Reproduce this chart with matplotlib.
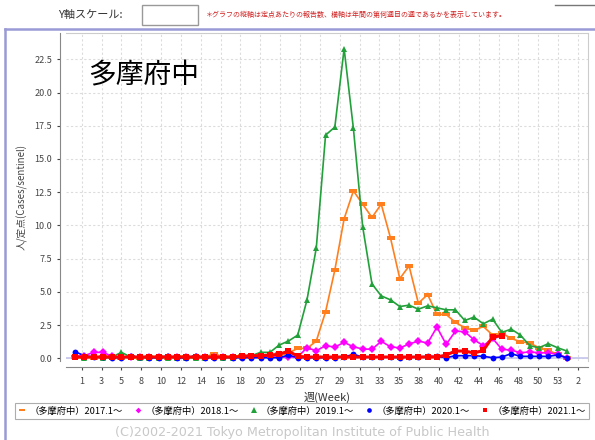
import matplotlib
matplotlib.use("Agg")
import matplotlib.pyplot as plt
from matplotlib.lines import Line2D
from matplotlib.patches import Rectangle

plt.rcParams['font.family'] = ['Noto Sans CJK JP', 'DejaVu Sans']

# 週の並び (1..53 と翌年の1週)
weeks = list(range(1, 55))
tick_labels = ['1', '3', '5', '8', '10', '12', '14', '16', '18', '20', '23', '25', '27',
               '29', '31', '33', '35', '38', '40', '42', '44', '46', '48', '50', '53', '2']

y2017 = [0.1, 0.1, 0.05, 0.1, 0.1, 0.05, 0.1, 0.05, 0.1, 0.1, 0.05, 0.1, 0.1, 0.1, 0.1,
         0.35, 0.1, 0.1, 0.15, 0.15, 0.2, 0.2, 0.3, 0.4, 0.75, 0.75, 1.3, 3.5, 6.65, 10.5,
         12.6, 11.6, 10.6, 11.6, 9.05, 6.0, 6.95, 4.15, 4.8, 3.3, 3.3, 2.7, 2.3, 2.1, 2.4,
         1.75, 1.9, 1.5, 1.25, 1.15, 0.8, 0.6, 0.3, 0.05]
y2018 = [0.15, 0.2, 0.45, 0.45, 0.15, 0.1, 0.1, 0.1, 0.1, 0.1, 0.1, 0.1, 0.1, 0.1, 0.1,
         0.1, 0.1, 0.1, 0.1, 0.1, 0.1, 0.1, 0.1, 0.1, 0.1, 0.8, 0.57, 0.95, 0.85, 1.2,
         0.87, 0.7, 0.68, 1.28, 0.87, 0.78, 1.08, 1.3, 1.15, 2.35, 1.05, 2.05, 2.0, 1.4, 0.95,
         1.5, 0.68, 0.62, 0.42, 0.48, 0.42, 0.42, 0.3, 0.05]
y2019 = [0.1, 0.05, 0.1, 0.05, 0.1, 0.45, 0.1, 0.05, 0.05, 0.05, 0.05, 0.05, 0.05, 0.05, 0.05,
         0.1, 0.05, 0.05, 0.1, 0.2, 0.45, 0.45, 1.0, 1.3, 1.75, 4.4, 8.3, 16.8, 17.4, 23.3,
         17.3, 9.9, 5.6, 4.7, 4.4, 3.9, 4.0, 3.7, 3.95, 3.8, 3.65, 3.65, 2.85, 3.1, 2.6,
         2.95, 1.95, 2.2, 1.75, 0.95, 0.8, 1.1, 0.8, 0.55]
y2020 = [0.5, 0.2, 0.1, 0.1, 0.05, 0.05, 0.15, 0.1, 0.05, 0.05, 0.2, 0.05, 0.05, 0.2, 0.05,
         0.05, 0.1, 0.05, 0.05, 0.05, 0.05, 0.05, 0.05, 0.25, 0.05, 0.05, 0.05, 0.05, 0.05, 0.1,
         0.3, 0.1, 0.1, 0.1, 0.1, 0.05, 0.1, 0.1, 0.15, 0.15, 0.05, 0.2, 0.2, 0.2, 0.15,
         0.05, 0.1, 0.35, 0.15, 0.15, 0.15, 0.15, 0.25, 0.05]
y2021 = [0.1, 0.1, 0.1, 0.1, 0.1, 0.1, 0.1, 0.1, 0.1, 0.1, 0.1, 0.1, 0.1, 0.1, 0.1,
         0.1, 0.1, 0.1, 0.15, 0.2, 0.2, 0.25, 0.3, 0.55, 0.15, 0.1, 0.1, 0.1, 0.1, 0.1,
         0.1, 0.1, 0.1, 0.1, 0.1, 0.1, 0.1, 0.1, 0.1, 0.1, 0.25, 0.55, 0.55, 0.4, 0.6,
         1.6, 1.7]

names = ['（多摩府中）2017.1～', '（多摩府中）2018.1～', '（多摩府中）2019.1～',
         '（多摩府中）2020.1～', '（多摩府中）2021.1～']
colors = ['#ff7f1e', '#ff00ff', '#22a03a', '#0000ff', '#ff0000']
bar_marker = [(-1.0, -0.45), (1.0, -0.45), (1.0, 0.45), (-1.0, 0.45), (-1.0, -0.45)]
markers = [bar_marker, 'D', '^', 'o', 's']
msizes = [5.5, 3.6, 4.6, 4.2, 4.0]
lwidths = [1.2, 1.2, 1.2, 1.2, 2.2]
series = [y2017, y2018, y2019, y2020, y2021]

fig = plt.figure(figsize=(5.95, 4.4), dpi=100)
W, H = 595, 440

# 上部の入力欄と注意書き
fig.text(58 / W, 1 - 15 / H, 'Y軸スケール:', fontsize=8, va='center', color='#333333')
fig.patches.append(Rectangle((142 / W, 1 - 25 / H), 56 / W, 20 / H, transform=fig.transFigure,
                             facecolor='white', edgecolor='#999999', lw=1))
fig.text(206 / W, 1 - 15 / H,
         '＊グラフの縦軸は定点あたりの報告数、横軸は年間の第何週目の週であるかを表示しています。',
         fontsize=5, va='center', color='#d02020')
fig.add_artist(Line2D([555 / W, 1], [1 - 5 / H, 1 - 5 / H], color='#777777', lw=1))
fig.add_artist(Line2D([5 / W, 1], [1 - 29 / H, 1 - 29 / H], color='#9a9ad6', lw=1.8))
fig.add_artist(Line2D([5 / W, 5 / W], [0, 1 - 29 / H], color='#9a9ad6', lw=1.8))

ax = fig.add_axes([66 / W, 1 - 361 / H, (588 - 66) / W, (361 - 33) / H])

ax.axhline(0, color='#c4c4ec', lw=1.2, zorder=1)
for y, c, m, ms, lw in zip(series, colors, markers, msizes, lwidths):
    ax.plot(weeks[:len(y)], y, color=c, marker=m, markersize=ms, lw=lw,
            markeredgewidth=0, zorder=3)

tick_pos = [1.72 + 2.139 * i for i in range(len(tick_labels))]
ax.set_xticks(tick_pos)
ax.set_xticklabels(tick_labels)
ax.set_xlim(0.03, 56.28)
ax.set_ylim(-0.2, 24.48)
ax.set_yticks([0, 2.5, 5, 7.5, 10, 12.5, 15, 17.5, 20, 22.5])
ax.set_yticklabels(['0.0', '2.5', '5.0', '7.5', '10.0', '12.5', '15.0', '17.5', '20.0', '22.5'])

ax.grid(True, color='#dcdcdc', linestyle=(0, (2, 2)), lw=0.8)
ax.set_axisbelow(True)
for s in ['top', 'right']:
    ax.spines[s].set_color('#cccccc')
for s in ['left', 'bottom']:
    ax.spines[s].set_position(('outward', 4))
    ax.spines[s].set_color('#888888')
ax.tick_params(labelsize=6.5, colors='#444444', length=2.5, width=0.8)
ax.tick_params(axis='x', pad=5)

ax.set_ylabel('人/定点(Cases/sentinel)', fontsize=7, color='#444444', labelpad=5)
ax.set_xlabel('週(Week)', fontsize=8, color='#333333', labelpad=4)

fig.text(88 / W, 1 - 75 / H, '多摩府中', fontsize=20, va='center', color='black')

# 凡例
handles = [Line2D([], [], color=c, marker=m, markersize=ms * 0.8, linestyle='None', markeredgewidth=0)
           for c, m, ms in zip(colors, markers, msizes)]
leg = fig.legend(handles, names, loc='center', bbox_to_anchor=(302 / W, 1 - 411 / H), ncol=5,
                 fontsize=6.7, frameon=True, fancybox=False, handlelength=0.8,
                 handletextpad=0.4, columnspacing=1.2, borderpad=0.35)
leg.get_frame().set_edgecolor('#999999')
leg.get_frame().set_linewidth(0.8)

fig.text(302 / W, 1 - 432 / H, '(C)2002-2021 Tokyo Metropolitan Institute of Public Health',
         fontsize=9.2, ha='center', va='center', color='#c8c8c8', family='DejaVu Sans')

fig.savefig('out.png', dpi=100)
